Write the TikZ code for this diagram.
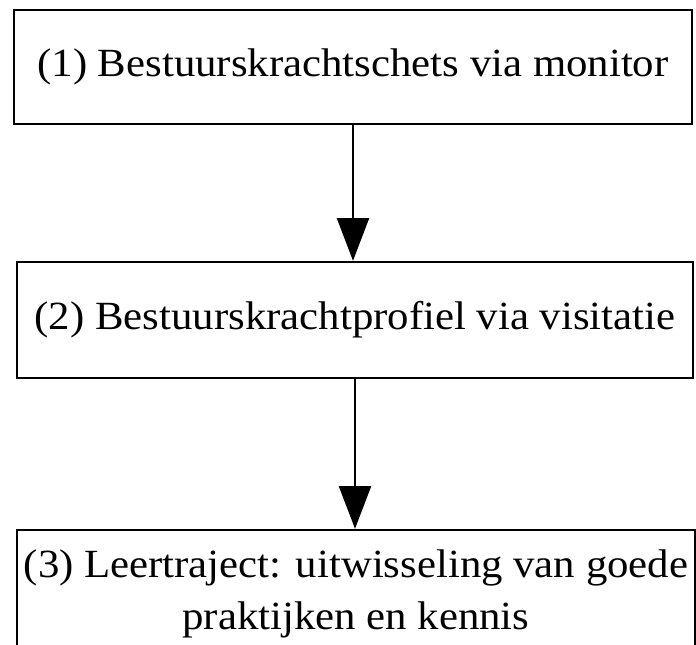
\documentclass[tikz,border=0pt]{standalone}
\usepackage{fontspec}
\setmainfont[FakeStretch=1.07]{Liberation Serif}
\usetikzlibrary{arrows.meta}
\begin{document}
\begin{tikzpicture}[x=0.75pt,y=-0.75pt,
  box/.style={draw=black, line width=1.8pt, inner sep=0pt, font=\fontsize{30}{39}\selectfont, align=center, text=black},
  conn/.style={line width=1.5pt, -{Triangle[length=32pt,width=24pt]}}]
\useasboundingbox (0,0) rectangle (696,644);
\clip (0,0) rectangle (696,644);
\node[box, minimum width=508.5pt, minimum height=85.5pt] (b1) at (353,67) {(1) Bestuurskrachtschets via monitor};
\node[box, minimum width=507pt, minimum height=87pt] (b2) at (355,320) {(2) Bestuurskrachtprofiel via visitatie};
\node[box, minimum width=508.5pt, minimum height=96pt] (b3) at (356,594) {(3) Leertraject: uitwisseling van goede\\praktijken en kennis};
\draw[conn] (b1.south) -- (b1.south |- b2.north);
\draw[conn] (b2.south) -- (b2.south |- b3.north);
\end{tikzpicture}
\end{document}
